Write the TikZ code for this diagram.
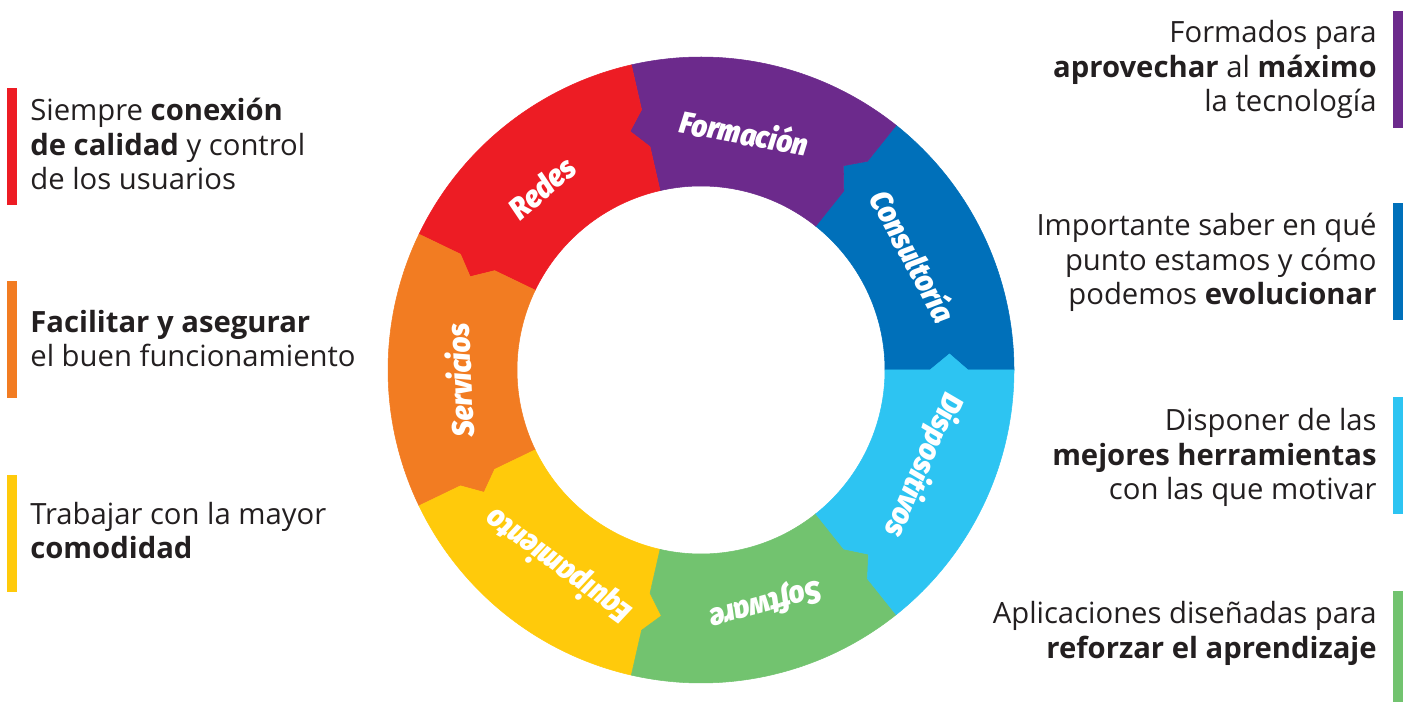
\documentclass[tikz,border=0pt]{standalone}
\usepackage{fontspec}
\IfFontExistsTF{Noto Sans Bold}
  {\setmainfont{Noto Sans}[BoldFont={Noto Sans Bold}]}
  {\IfFontExistsTF{NotoSans-Bold.ttf}
     {\setmainfont{NotoSans-Regular.ttf}[BoldFont=NotoSans-Bold.ttf]}
     {\setmainfont{Open Sans}}}
\IfFontExistsTF{Fira Sans Black Italic}
  {\newfontfamily\ringfont{Fira Sans Black Italic}[FakeStretch=0.9]\newcommand\ringshape{}}
  {\IfFontExistsTF{Fira Sans ExtraBold Italic}
     {\newfontfamily\ringfont{Fira Sans ExtraBold Italic}[FakeStretch=0.9]\newcommand\ringshape{}}
     {\newfontfamily\ringfont{Fira Sans}[BoldItalicFeatures={FakeBold=2.5}, FakeStretch=0.9]\newcommand\ringshape{\bfseries\itshape}}}
\definecolor{txt}{HTML}{231F20}
\definecolor{redes}{HTML}{ED1C24}
\definecolor{forma}{HTML}{6C2A8C}
\definecolor{consul}{HTML}{0070BA}
\definecolor{dispo}{HTML}{2DC4F2}
\definecolor{soft}{HTML}{72C36F}
\definecolor{equip}{HTML}{FFCA0B}
\definecolor{serv}{HTML}{F27C22}
\begin{document}
\begin{tikzpicture}[x=0.02cm, y=-0.02cm]
    \tikzset{bar/.style= {rectangle,
                          inner sep=0,
                          minimum width=0.2cm,
                          minimum height=2.34cm},
             lefttxt/.style= {anchor=base west,
                              align=left,
                              inner sep=0,
                              text=txt,
                              font=\fontsize{16.65}{19.9}\selectfont},
             righttxt/.style= {lefttxt,
                               anchor=base east,
                               align=right},
             seglabel/.style= {inner sep=0,
                               text=white,
                               font=\ringfont\ringshape\fontsize{17.5}{19}\selectfont},
            }
    \useasboundingbox (0,0) rectangle (1407,702);

    % ring of seven pieces
    \begin{scope}[shift={(701,370)}, y=0.02cm]
    \foreach \k/\col/\txt in {0/consul/Consultoría, 1/forma/Formación,
                              2/redes/Redes, 3/serv/Servicios,
                              4/equip/Equipamiento, 5/soft/Software,
                              6/dispo/Dispositivos}{
        \pgfmathsetmacro\lo{\k*360/7}
        \pgfmathsetmacro\hi{(\k+1)*360/7}
        \pgfmathsetmacro\mid{\lo+180/7+2.5}
        \filldraw[fill=\col, draw=\col, line width=0.3pt]
            (\lo:313) arc[start angle=\lo, end angle=\hi, radius=313]
            -- (\hi:267) -- (\hi+3.7:249) -- (\hi:229) -- (\hi:184)
            arc[start angle=\hi, end angle=\lo, radius=184]
            -- (\lo:229) -- (\lo+3.7:249) -- (\lo:267) -- cycle;
        \node[seglabel, rotate=\mid-90] (\col-lbl) at (\mid:242) {\txt};
    }
    \end{scope}

    % left side
    \node[bar, fill=redes] (redesbar) at (12,146.5) {};
    \node[bar, fill=serv]  (servbar)  at (12,339.5) {};
    \node[bar, fill=equip] (equipbar) at (12,533.5) {};
    \node[lefttxt] (redestxt) at (30,190) {Siempre \textbf{conexión}\\\textbf{de calidad} y control\\de los usuarios};
    \node[lefttxt] (servtxt)  at (30,367) {\textbf{Facilitar y asegurar}\\el buen funcionamiento};
    \node[lefttxt] (equiptxt) at (30,559) {Trabajar con la mayor\\\textbf{comodidad}};

    % right side
    \node[bar, fill=forma]  (formabar)  at (1398,69.5) {};
    \node[bar, fill=consul] (consulbar) at (1398,261.5) {};
    \node[bar, fill=dispo]  (dispobar)  at (1398,455.5) {};
    \node[bar, fill=soft, minimum height=2.22cm] (softbar) at (1398,646.5) {};
    \node[righttxt] (formatxt)  at (1377,112) {Formados para\\\textbf{aprovechar} al \textbf{máximo}\\la tecnología};
    \node[righttxt] (consultxt) at (1377,305) {Importante saber en qué\\punto estamos y cómo\\podemos \textbf{evolucionar}};
    \node[righttxt] (dispotxt)  at (1377,500) {Disponer de las\\\textbf{mejores herramientas}\\con las que motivar};
    \node[righttxt] (softtxt)   at (1377,658) {Aplicaciones diseñadas para\\\textbf{reforzar el aprendizaje}};
\end{tikzpicture}
\end{document}
